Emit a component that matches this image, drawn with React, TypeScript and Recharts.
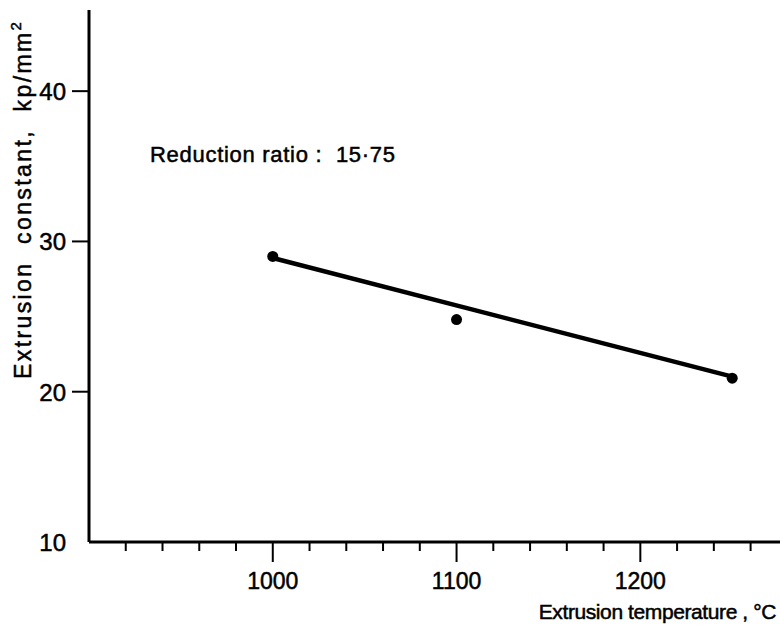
import React from 'react';
import { ComposedChart, XAxis, YAxis, Line, Scatter, Label } from 'recharts';

// measured points
const temperatures = [1000, 1100, 1250];
const constants = [29.0, 24.8, 20.9];

// straight fitted line
const fitTemps = [1000, 1250];
const fitConstants = [28.9, 21.0];

const xTicks = [920, 940, 960, 980, 1000, 1020, 1040, 1060, 1080, 1100, 1120, 1140, 1160, 1180, 1200, 1220, 1240, 1260];
const xLabelled = [1000, 1100, 1200];
const yTicks = [10, 20, 30, 40];

const points = temperatures.map((t, i) => ({ t, k: constants[i] }));
const fitLine = fitTemps.map((t, i) => ({ t, k: fitConstants[i] }));

const FONT = '"Liberation Sans", Arial, sans-serif';
// scanned lettering is a little heavier than the plain font
const ink = { fill: '#000', stroke: '#000', strokeWidth: 0.5 };

const XTick = (props: any) => {
  const { x, y, payload } = props;
  const major = xLabelled.includes(payload.value);
  return (
    <g>
      <line x1={x} y1={y} x2={x} y2={y + (major ? 20 : 9)} stroke="#000" strokeWidth={2} />
      {major && (
        <text x={x} y={y + 47} textAnchor="middle" fontSize={23} fontFamily={FONT} {...ink}>
          {payload.value}
        </text>
      )}
    </g>
  );
};

const YTick = (props: any) => {
  const { x, y, payload } = props;
  return (
    <g>
      {payload.value !== 10 && <line x1={x - 17} y1={y} x2={x} y2={y} stroke="#000" strokeWidth={2} />}
      <text x={x - 23} y={y + 9} textAnchor="end" fontSize={24} fontFamily={FONT} {...ink}>
        {payload.value}
      </text>
    </g>
  );
};

const Dot = (props: any) => {
  const { cx, cy } = props;
  return <circle cx={cx} cy={cy} r={5.5} fill="#000" />;
};

export default function App() {
  return (
    <div style={{ position: 'relative', width: 780, height: 629, background: '#fff' }}>
      <style>{'body{margin:0}'}</style>
      <ComposedChart width={780} height={629} margin={{ top: 10, right: 0, bottom: 0, left: 0 }}>
        <XAxis
          dataKey="t"
          type="number"
          domain={[900, 1276]}
          ticks={xTicks}
          interval={0}
          allowDataOverflow
          height={87}
          tickSize={0}
          tickMargin={0}
          tickLine={false}
          tick={<XTick />}
          axisLine={{ stroke: '#000', strokeWidth: 3 }}
        >
          <Label
            content={() => (
              <text x={776} y={619} textAnchor="end" fontSize={21} letterSpacing={-0.4} fontFamily={FONT} {...ink}>
                Extrusion temperature , °C
              </text>
            )}
          />
        </XAxis>
        <YAxis
          dataKey="k"
          type="number"
          domain={[10, 45.4]}
          ticks={yTicks}
          interval={0}
          allowDataOverflow
          width={89}
          tickSize={0}
          tickMargin={0}
          tickLine={false}
          tick={<YTick />}
          axisLine={{ stroke: '#000', strokeWidth: 3 }}
        >
          <Label
            content={() => (
              <text
                transform="translate(31,379) rotate(-90)"
                fontSize={23}
                fontFamily={FONT}
                letterSpacing={2.4}
                style={{ whiteSpace: 'pre' }}
                {...ink}
              >
                {'Extrusion  constant,  kp/mm'}
                <tspan dy={-10} fontSize={15}>2</tspan>
              </text>
            )}
          />
        </YAxis>
        <Line
          data={fitLine}
          dataKey="k"
          stroke="#000"
          strokeWidth={4.5}
          dot={false}
          isAnimationActive={false}
        />
        <Scatter data={points} dataKey="k" fill="#000" shape={<Dot />} isAnimationActive={false} />
      </ComposedChart>
      <svg width={780} height={629} style={{ position: 'absolute', left: 0, top: 0, pointerEvents: 'none' }}>
        <text
          x={150}
          y={162}
          fontSize={22}
          fontFamily={FONT}
          textLength={245}
          lengthAdjust="spacing"
          style={{ whiteSpace: 'pre' }}
          {...ink}
        >
          {'Reduction ratio :  15·75'}
        </text>
      </svg>
    </div>
  );
}
